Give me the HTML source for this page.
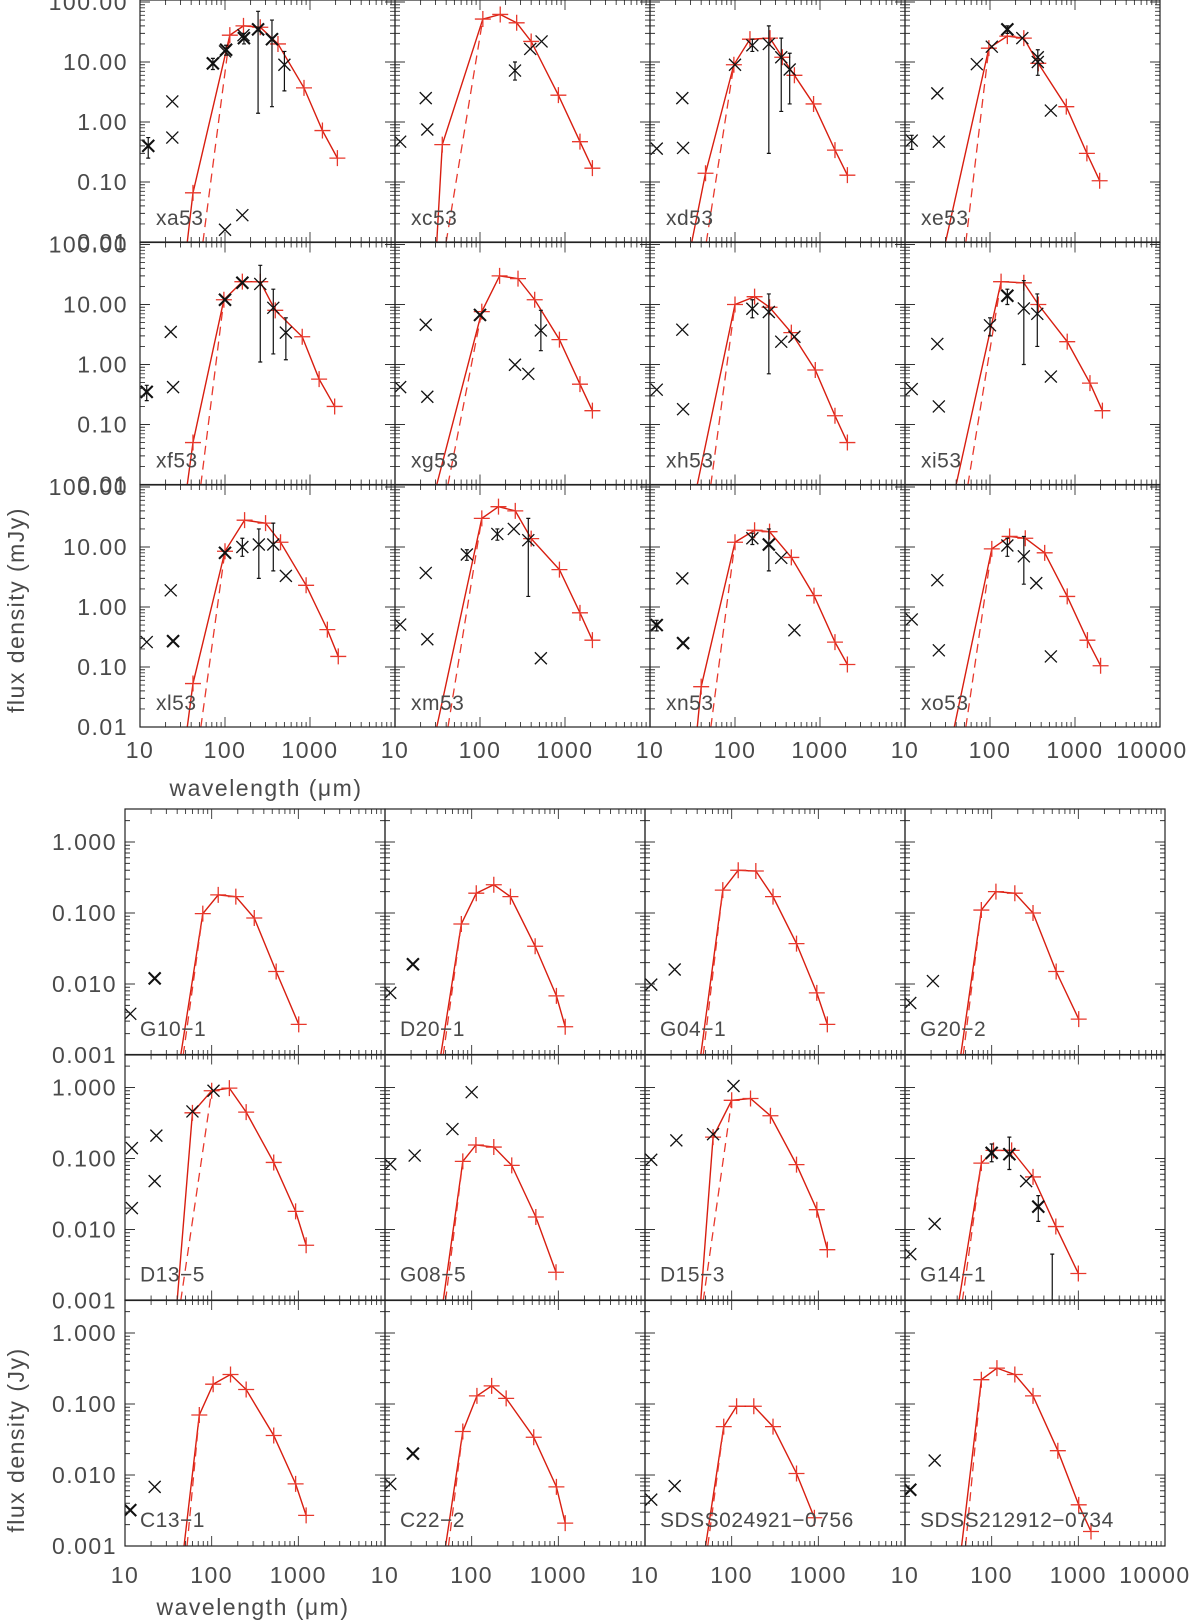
<!DOCTYPE html>
<html><head><meta charset="utf-8"><title>SED panels</title>
<style>
html,body{margin:0;padding:0;background:#fff;}
svg{display:block;}
text{font-family:"Liberation Sans",sans-serif;fill:#4a4a4a;}
</style></head>
<body>
<svg id="fig" xmlns="http://www.w3.org/2000/svg" width="1200" height="1622" viewBox="0 0 1200 1622">
<defs id="defs"></defs>
<g id="plots"></g>
</svg>
<script>
// ---------- TOP BLOCK DATA (mJy) ----------
const topNames = ['xa53','xc53','xd53','xe53','xf53','xg53','xh53','xi53','xl53','xm53','xn53','xo53'];
const topModelWave = [
 [42,114,165,260,420,850,1400,2100],
 [36,108,173,270,400,836,1500,2100],
 [45,97,150,258,360,500,840,1500,2100],
 [97,160,250,370,790,1380,1950],
 [42,97,160,260,390,810,1280,1950],
 [105,170,280,440,860,1500,2100],
 [100,170,255,460,880,1500,2100],
 [135,250,370,810,1500,2100],
 [42,100,170,300,450,900,1600,2150],
 [105,165,260,400,860,1500,2100],
 [40,100,170,255,460,850,1500,2100],
 [105,170,260,440,810,1400,2000]
];
const topModelFlux = [
 [0.066,28,40,38,20,3.7,0.72,0.25],
 [0.42,52,62,45,22,2.8,0.47,0.17],
 [0.14,9,24,25,12,6,2.0,0.34,0.13],
 [17,27,25,9.5,1.8,0.30,0.105],
 [0.05,12,24,24,8,2.9,0.57,0.20],
 [7.6,30,27,12,2.6,0.47,0.17],
 [10,13.5,9,3.4,0.81,0.14,0.05],
 [24,23,10,2.4,0.49,0.17],
 [0.053,8.5,28,25,12,2.3,0.42,0.15],
 [30,47,40,13.8,4.2,0.8,0.28],
 [0.047,12,19,18,6.7,1.55,0.26,0.11],
 [9.3,15,14,8,1.5,0.28,0.105]
];
const topStart = [36,31,31,30,36,31,36,40,36,31,36,38];
const topDashStart = [55,40,46,52,52,42,52,55,52,42,52,52];
// [wavelength, flux, errLo, errHi, bold]
const topData = [
 [[12.5,0.4,0.25,0.55,1],[24,2.2],[24,0.55],[72,9.5,7.5,11.5,1],[103,16,13,19,1],[100,15],[167,25,20,30,1],[165,28],[245,35,1.4,70,1],[357,24,1.8,50,1],[500,9,3.3,15],[100,0.016],[160,0.028]],
 [[11.5,0.47],[23,2.5],[24,0.75],[258,7.2,5,10],[390,16.5],[530,22]],
 [[12,0.36],[24,2.5],[24.5,0.37],[100,9],[160,19,15,24],[250,20,0.3,40],[350,12,1.5,25],[440,7.5,2,14]],
 [[12,0.49,0.35,0.6],[24,3.0],[25,0.47],[70,9.2],[105,18],[160,35,30,40,1],[240,25],[365,12,6,16],[365,10],[520,1.55]],
 [[12,0.35,0.25,0.45,1],[23,3.5],[24.5,0.42],[100,12,null,null,1],[160,23,null,null,1],[260,22,1.1,45],[370,8.8,1.5,18],[520,3.4,1.2,6]],
 [[11.5,0.42],[23,4.6],[24,0.29],[100,6.7,null,null,1],[258,0.99],[370,0.7],[520,3.7,1.7,8]],
 [[12,0.38],[24,3.8],[24.5,0.18],[160,8.5,6,12],[250,7.5,0.7,15],[350,2.4],[500,2.9]],
 [[12,0.39],[24,2.2],[25,0.2],[100,4.5,3,6],[160,14,10,18,1],[250,8.6,1,25],[360,7,2,15],[520,0.63]],
 [[12,0.26],[23,1.9],[24.5,0.27,null,null,1],[100,8,null,null,1],[160,10,7,14],[250,11,3,20],[370,11,4,25],[520,3.3]],
 [[11.5,0.51],[23,3.7],[24,0.29],[70,7.5,6,9],[160,16.5,13,20],[250,20],[370,13,1.5,30],[520,0.14]],
 [[12,0.5,0.4,0.6,1],[24,3.0],[24.5,0.25,null,null,1],[160,14,11,17],[250,11,4,20,1],[350,6.6],[500,0.41]],
 [[12,0.62],[24,2.8],[25,0.19],[160,10.6,7,14],[250,7,2.4,15],[350,2.5],[520,0.15]]
];
const topYTicks = ['0.01','0.10','1.00','10.00','100.00'];
const xTickLabels = ['10','100','1000'];

// ---------- BOTTOM BLOCK DATA (Jy) ----------
const botNames = ['G10\u22121','D20\u22121','G04\u22121','G20\u22122','D13\u22125','G08\u22125','D15\u22123','G14\u22121','C13\u22121','C22\u22122','SDSS024921\u22120756','SDSS212912\u22120734'];
const botModelWave = [
 [79,119,190,310,555,1010],
 [76,113,180,280,540,950,1200],
 [79,119,190,300,560,960,1270],
 [76,112,185,300,555,1010],
 [60,100,160,250,520,930,1230],
 [79,112,180,290,550,940],
 [61,100,165,280,560,960,1270],
 [76,105,170,300,550,1000],
 [72,104,165,250,520,930,1230],
 [79,115,170,250,520,950,1200],
 [81,114,180,300,560,900],
 [76,115,185,300,580,1010,1400]
];
const botModelFlux = [
 [0.098,0.18,0.17,0.085,0.015,0.0027],
 [0.07,0.19,0.25,0.17,0.034,0.0068,0.0025],
 [0.21,0.4,0.39,0.17,0.037,0.0075,0.0027],
 [0.11,0.2,0.19,0.1,0.015,0.0032],
 [0.44,0.9,0.98,0.45,0.088,0.018,0.006],
 [0.091,0.155,0.145,0.08,0.015,0.0025],
 [0.2,0.66,0.7,0.4,0.082,0.019,0.0052],
 [0.086,0.13,0.13,0.055,0.011,0.0024],
 [0.07,0.19,0.26,0.16,0.036,0.0075,0.0027],
 [0.041,0.13,0.18,0.12,0.034,0.0068,0.0021],
 [0.048,0.093,0.093,0.048,0.0105,0.0025],
 [0.22,0.32,0.26,0.13,0.022,0.0038,0.0016]
];
const botStart = [44,44,44,44,40,47,44,42,48,50,50,45];
const botDashStart = [47,47,47,47,44,50,47,46,52,54,53,50];
const botData = [
 [[11.5,0.0038],[22,0.012,null,null,1]],
 [[11.5,0.0075],[21,0.019,null,null,1]],
 [[11.8,0.0098],[22,0.016]],
 [[11.5,0.0054],[21,0.011]],
 [[12,0.14],[12,0.02],[23,0.21],[22,0.048],[60,0.46],[105,0.9]],
 [[11.5,0.083],[22,0.11],[60,0.26],[100,0.86]],
 [[11.8,0.096],[23,0.18],[61,0.22],[105,1.05]],
 [[11.5,0.0045],[22,0.012],[100,0.12,0.09,0.16,1],[160,0.115,0.07,0.2,1],[250,0.048],[345,0.021,0.013,0.03,1],[500,null,0.001,0.0045]],
 [[11.5,0.0032,null,null,1],[22,0.0068]],
 [[11.5,0.0075],[21,0.02,null,null,1]],
 [[11.8,0.0045],[22,0.007]],
 [[11.5,0.0062,null,null,1],[22,0.016]]
];
const botYTicks = ['0.001','0.010','0.100','1.000'];

// ---------- drawing ----------
const NS='http://www.w3.org/2000/svg';
const root=document.getElementById('plots');
const defs=document.getElementById('defs');
function mk(tag,attrs,parent){const e=document.createElementNS(NS,tag);for(const k in attrs)e.setAttribute(k,attrs[k]);(parent||root).appendChild(e);return e;}
const L=Math.log10;
const RED='#e8382c', REDL='#d81e10';

function drawPanel(cfg){
  const {x0,yb,w,h,xDec,yDec,yMin,name,mw,mf,start,dstart,data,idx,block,ylab}=cfg;
  const X=v=>x0+(L(v)-1)*xDec;
  const Y=v=>yb-(L(v)-yMin)*yDec;
  const g=mk('g',{});
  
  
  const cid='clip-'+block+idx;
  const cp=mk('clipPath',{id:cid},defs);
  mk('rect',{x:x0,y:yb-h,width:w,height:h},cp);
  const lg=mk('g',{'clip-path':'url(#'+cid+')'},g);
  let pts=[[X(start),Y(Math.pow(10,yMin))]];
  for(let i=0;i<mw.length;i++)pts.push([X(mw[i]),Y(mf[i])]);
  const solid=mk('polyline',{points:pts.map(p=>p.join(',')).join(' '),fill:'none',stroke:REDL,'stroke-width':1.4},lg);
  
  
  let di=0;while(di<mw.length-1&&mw[di]<70)di++;
  const dpts=[[X(dstart),Y(Math.pow(10,yMin))],[X(mw[di]),Y(mf[di])]];
  const dash=mk('polyline',{points:dpts.map(p=>p.join(',')).join(' '),fill:'none',stroke:RED,'stroke-width':1.3,'stroke-dasharray':'9,6'},lg);
  
  
  for(let i=0;i<mw.length;i++){
    const px=X(mw[i]),py=Y(mf[i]);
    const p=mk('path',{d:`M${px-8},${py}H${px+8}M${px},${py-8}V${py+8}`,stroke:RED,'stroke-width':1.3,fill:'none'},lg);
    
    
  }
  for(const d of data){
    const px=X(d[0]);
    if(d[2]!=null&&d[3]!=null){
      const y1=Y(d[2]),y2=Y(d[3]);
      const e=mk('path',{d:`M${px},${y1}V${y2}M${px-2},${y1}H${px+2}M${px-2},${y2}H${px+2}`,stroke:'#111','stroke-width':1.2,fill:'none'},lg);
      
      
    }
    if(d[1]!=null){
      const py=Y(d[1]);const s=6;
      const sw=d[4]?2.1:1.3;
      const xm=mk('path',{d:`M${px-s},${py-s}L${px+s},${py+s}M${px-s},${py+s}L${px+s},${py-s}`,stroke:'#111','stroke-width':sw,fill:'none'},lg);
      
      
    }
  }
  let tp='';
  for(let n=1;n<=4;n++)for(let k=1;k<=9;k++){
    const lv=n+L(k);if(lv>4.0001)break;
    const px=x0+(lv-1)*xDec;if(px>x0+w+0.5)break;
    const len=k==1?10:5;
    tp+=`M${px},${yb}V${yb-len}M${px},${yb-h}V${yb-h+len}`;
  }
  for(let n=yMin;n<=yMin+5;n++)for(let k=1;k<=9;k++){
    const py=yb-(n+L(k)-yMin)*yDec;if(py<yb-h-0.5)break;
    const len=k==1?10:5;
    tp+=`M${x0},${py}H${x0+len}M${x0+w},${py}H${x0+w-len}`;
  }
  const ticks=mk('path',{d:tp,stroke:'#333','stroke-width':0.9,fill:'none'},g);
  
  
  const fr=mk('rect',{x:x0,y:yb-h,width:w,height:h,fill:'none',stroke:'#222','stroke-width':1.2},g);
  
  
  const t=mk('text',{x:x0+ylab.dx,y:yb-ylab.dy,'font-size':ylab.fs,'letter-spacing':'0.5'},g);
  t.textContent=name;
  
  
}

const TX0=140,TW=255,TXD=85,TYD=60,TH=242;
const TB=[242,484.5,727];
for(let i=0;i<12;i++){
  const c=i%4,r=Math.floor(i/4);
  drawPanel({x0:TX0+c*TW,yb:TB[r],w:TW,h:TH,xDec:TXD,yDec:TYD,yMin:-2,name:topNames[i],
    mw:topModelWave[i],mf:topModelFlux[i],start:topStart[i],dstart:topDashStart[i],data:topData[i],
    idx:i,block:'mjy',ylab:{dx:16,dy:17,fs:21}});
}
for(let r=0;r<3;r++){
  for(let j=0;j<topYTicks.length;j++){
    const t=mk('text',{x:128,y:TB[r]-j*TYD+8,'font-size':23,'text-anchor':'end','letter-spacing':'1.5'});
    t.textContent=topYTicks[j];
    
    
  }
}
for(let c=0;c<4;c++){
  for(let j=0;j<3;j++){
    const t=mk('text',{x:TX0+c*TW+j*TXD,y:758,'font-size':23,'text-anchor':'middle','letter-spacing':'1.5'});
    t.textContent=xTickLabels[j];
    
    
  }
}
{const t=mk('text',{x:TX0+4*TW-8,y:758,'font-size':23,'text-anchor':'middle','letter-spacing':'1.5'});t.textContent='10000';
 
 }
{const t=mk('text',{x:266,y:796,'font-size':23,'text-anchor':'middle','letter-spacing':'1.5'});t.textContent='wavelength (\u03bcm)';
 
 }
{const t=mk('text',{x:0,y:0,'font-size':23,'text-anchor':'middle','letter-spacing':'1.5',transform:'translate(24,610) rotate(-90)'});t.textContent='flux density (mJy)';
 
 }

const BX0=125,BW=260,BXD=86.67,BYD=71,BH=246;
const BB=[1055,1300.5,1546];
for(let i=0;i<12;i++){
  const c=i%4,r=Math.floor(i/4);
  drawPanel({x0:BX0+c*BW,yb:BB[r],w:BW,h:BH,xDec:BXD,yDec:BYD,yMin:-3,name:botNames[i],
    mw:botModelWave[i],mf:botModelFlux[i],start:botStart[i],dstart:botDashStart[i],data:botData[i],
    idx:i,block:'jy',ylab:{dx:15,dy:19,fs:21}});
}
for(let r=0;r<3;r++){
  for(let j=0;j<botYTicks.length;j++){
    const t=mk('text',{x:117,y:BB[r]-j*BYD+8,'font-size':23,'text-anchor':'end','letter-spacing':'1.5'});
    t.textContent=botYTicks[j];
    
    
  }
}
for(let c=0;c<4;c++){
  for(let j=0;j<3;j++){
    const t=mk('text',{x:BX0+c*BW+j*BXD,y:1583,'font-size':23,'text-anchor':'middle','letter-spacing':'1.5'});
    t.textContent=xTickLabels[j];
    
    
  }
}
{const t=mk('text',{x:BX0+4*BW-10,y:1583,'font-size':23,'text-anchor':'middle','letter-spacing':'1.5'});t.textContent='10000';
 
 }
{const t=mk('text',{x:253,y:1615,'font-size':23,'text-anchor':'middle','letter-spacing':'1.5'});t.textContent='wavelength (\u03bcm)';
 
 }
{const t=mk('text',{x:0,y:0,'font-size':23,'text-anchor':'middle','letter-spacing':'1.5',transform:'translate(24,1440) rotate(-90)'});t.textContent='flux density (Jy)';
 
 }
</script>
</body></html>
